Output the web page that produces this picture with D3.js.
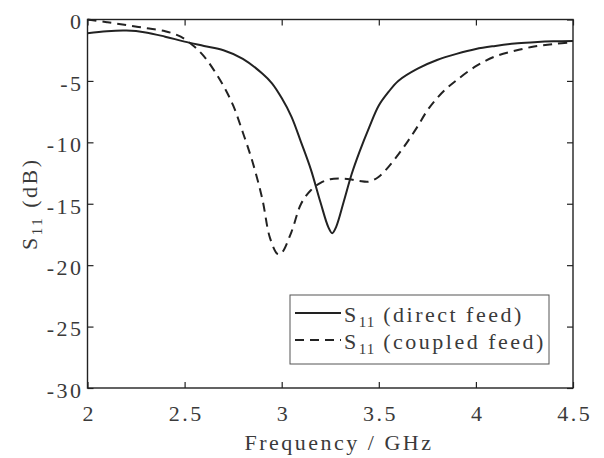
<!DOCTYPE html>
<html>
<head>
<meta charset="utf-8">
<script src="https://cdn.jsdelivr.net/npm/d3@7"></script>
<style>
  html, body { margin: 0; padding: 0; background: #fff; }
  svg { display: block; }
</style>
</head>
<body>
<svg id="chart" width="604" height="458"></svg>
<script>
// Frequency sweep points (GHz) and return loss (dB) for each feed type
const directFreq = [2.0, 2.1, 2.2, 2.3, 2.4, 2.5, 2.6, 2.7, 2.8, 2.9, 2.95, 3.0, 3.05, 3.1, 3.15, 3.2, 3.24, 3.26, 3.28, 3.32, 3.36, 3.4, 3.45, 3.5, 3.55, 3.6, 3.7, 3.8, 3.9, 4.0, 4.1, 4.2, 4.3, 4.4, 4.5];
const directS11  = [-1.12, -0.95, -0.9, -1.05, -1.4, -1.8, -2.15, -2.5, -3.2, -4.4, -5.2, -6.4, -7.9, -10.0, -12.2, -14.9, -16.9, -17.4, -16.9, -14.8, -12.6, -10.8, -8.8, -7.0, -5.9, -5.0, -4.0, -3.3, -2.8, -2.4, -2.15, -1.95, -1.85, -1.78, -1.75];

const coupledFreq = [2.0, 2.1, 2.2, 2.3, 2.4, 2.48, 2.55, 2.6, 2.65, 2.7, 2.75, 2.8, 2.85, 2.9, 2.94, 2.98, 3.0, 3.05, 3.1, 3.15, 3.2, 3.25, 3.3, 3.35, 3.4, 3.45, 3.5, 3.55, 3.6, 3.65, 3.7, 3.75, 3.8, 3.85, 3.9, 4.0, 4.1, 4.2, 4.3, 4.4, 4.5];
const coupledS11  = [0, -0.22, -0.45, -0.7, -0.95, -1.4, -2.2, -3.0, -4.1, -5.4, -7.0, -9.2, -11.6, -14.6, -17.8, -19.1, -19.0, -17.3, -15.0, -13.9, -13.3, -13.0, -12.95, -13.0, -13.15, -13.2, -12.8, -12.0, -11.0, -9.9, -8.7, -7.4, -6.4, -5.6, -4.95, -3.8, -3.0, -2.55, -2.2, -2.0, -1.85];

const xTicks = [2, 2.5, 3, 3.5, 4, 4.5];
const yTicks = [0, -5, -10, -15, -20, -25, -30];
const legendLabels = ["(direct feed)", "(coupled feed)"];

const svg = d3.select("#chart");
const plotL = 87.5, plotR = 573, plotT = 19.5, plotB = 388;
const ink = "#222";
const textInk = "#3a3a3a";
const serif = "Liberation Serif";
const fontSize = 22;
const subSize = 15;
const spacing = 2.5;

const x = d3.scaleLinear().domain([2, 4.5]).range([plotL, plotR]);
const y = d3.scaleLinear().domain([-30, 0]).range([plotB, plotT]);

// Axes with inward ticks, mirrored on the top and right edges
const tickLen = 6;
const plain = d => String(d);
const axisStyle = g => {
  g.select(".domain").remove();
  g.attr("font-family", serif).attr("font-size", fontSize);
  g.selectAll(".tick line").attr("stroke", ink).attr("stroke-width", 1.2);
  g.selectAll(".tick text").attr("fill", textInk).attr("font-family", serif)
    .attr("font-size", fontSize).attr("letter-spacing", spacing);
};

svg.append("g").attr("transform", `translate(0,${plotB})`)
  .call(d3.axisBottom(x).tickValues(xTicks).tickFormat(plain).tickSizeInner(-tickLen).tickSizeOuter(0).tickPadding(17))
  .call(axisStyle)
  .selectAll(".tick text").attr("dx", spacing / 2);
svg.append("g").attr("transform", `translate(0,${plotT})`)
  .call(d3.axisTop(x).tickValues(xTicks).tickFormat("").tickSizeInner(-tickLen).tickSizeOuter(0))
  .call(axisStyle);
svg.append("g").attr("transform", `translate(${plotL},0)`)
  .call(d3.axisLeft(y).tickValues(yTicks).tickFormat(plain).tickSizeInner(-tickLen).tickSizeOuter(0).tickPadding(4))
  .call(axisStyle)
  .selectAll(".tick text").attr("dy", "0.42em");
svg.append("g").attr("transform", `translate(${plotR},0)`)
  .call(d3.axisRight(y).tickValues(yTicks).tickFormat("").tickSizeInner(-tickLen).tickSizeOuter(0))
  .call(axisStyle);

// Plot frame
svg.append("rect")
  .attr("x", plotL).attr("y", plotT)
  .attr("width", plotR - plotL).attr("height", plotB - plotT)
  .attr("fill", "none").attr("stroke", ink).attr("stroke-width", 1.4);

// Curves
const line = d3.line().x(d => x(d[0])).y(d => y(d[1])).curve(d3.curveCatmullRom.alpha(0.5));
svg.append("path")
  .datum(d3.zip(directFreq, directS11))
  .attr("d", line).attr("fill", "none").attr("stroke", ink).attr("stroke-width", 2);
svg.append("path")
  .datum(d3.zip(coupledFreq, coupledS11))
  .attr("d", line).attr("fill", "none").attr("stroke", ink).attr("stroke-width", 2)
  .attr("stroke-dasharray", "9,6");

// Axis titles
svg.append("text")
  .attr("x", 339).attr("y", 450)
  .attr("text-anchor", "middle").attr("font-family", serif).attr("font-size", fontSize)
  .attr("fill", textInk).attr("letter-spacing", spacing)
  .text("Frequency / GHz");

const yTitle = svg.append("text")
  .attr("transform", `translate(37,${(plotT + plotB) / 2}) rotate(-90)`)
  .attr("text-anchor", "middle").attr("font-family", serif).attr("font-size", fontSize)
  .attr("fill", textInk).attr("letter-spacing", spacing);
yTitle.append("tspan").text("S");
yTitle.append("tspan").attr("font-size", subSize).attr("dy", 5).text("11");
yTitle.append("tspan").attr("dy", -5).text(" (dB)");

// Legend
const lg = svg.append("g");
lg.append("rect")
  .attr("x", 290).attr("y", 295).attr("width", 259).attr("height", 69)
  .attr("fill", "#fff").attr("stroke", "#555").attr("stroke-width", 1);
const rows = [{ dash: null, yy: 313 }, { dash: "9,6", yy: 340 }];
rows.forEach((r, i) => {
  lg.append("line")
    .attr("x1", 295).attr("x2", 341).attr("y1", r.yy).attr("y2", r.yy)
    .attr("stroke", ink).attr("stroke-width", 2)
    .attr("stroke-dasharray", r.dash);
  const t = lg.append("text").attr("x", 344).attr("y", r.yy + 9)
    .attr("font-family", serif).attr("font-size", fontSize)
    .attr("fill", textInk).attr("letter-spacing", spacing);
  t.append("tspan").text("S");
  t.append("tspan").attr("font-size", subSize).attr("dy", 5).attr("letter-spacing", 1).text("11");
  t.append("tspan").attr("dy", -5).text(" " + legendLabels[i]);
});
</script>
</body>
</html>
